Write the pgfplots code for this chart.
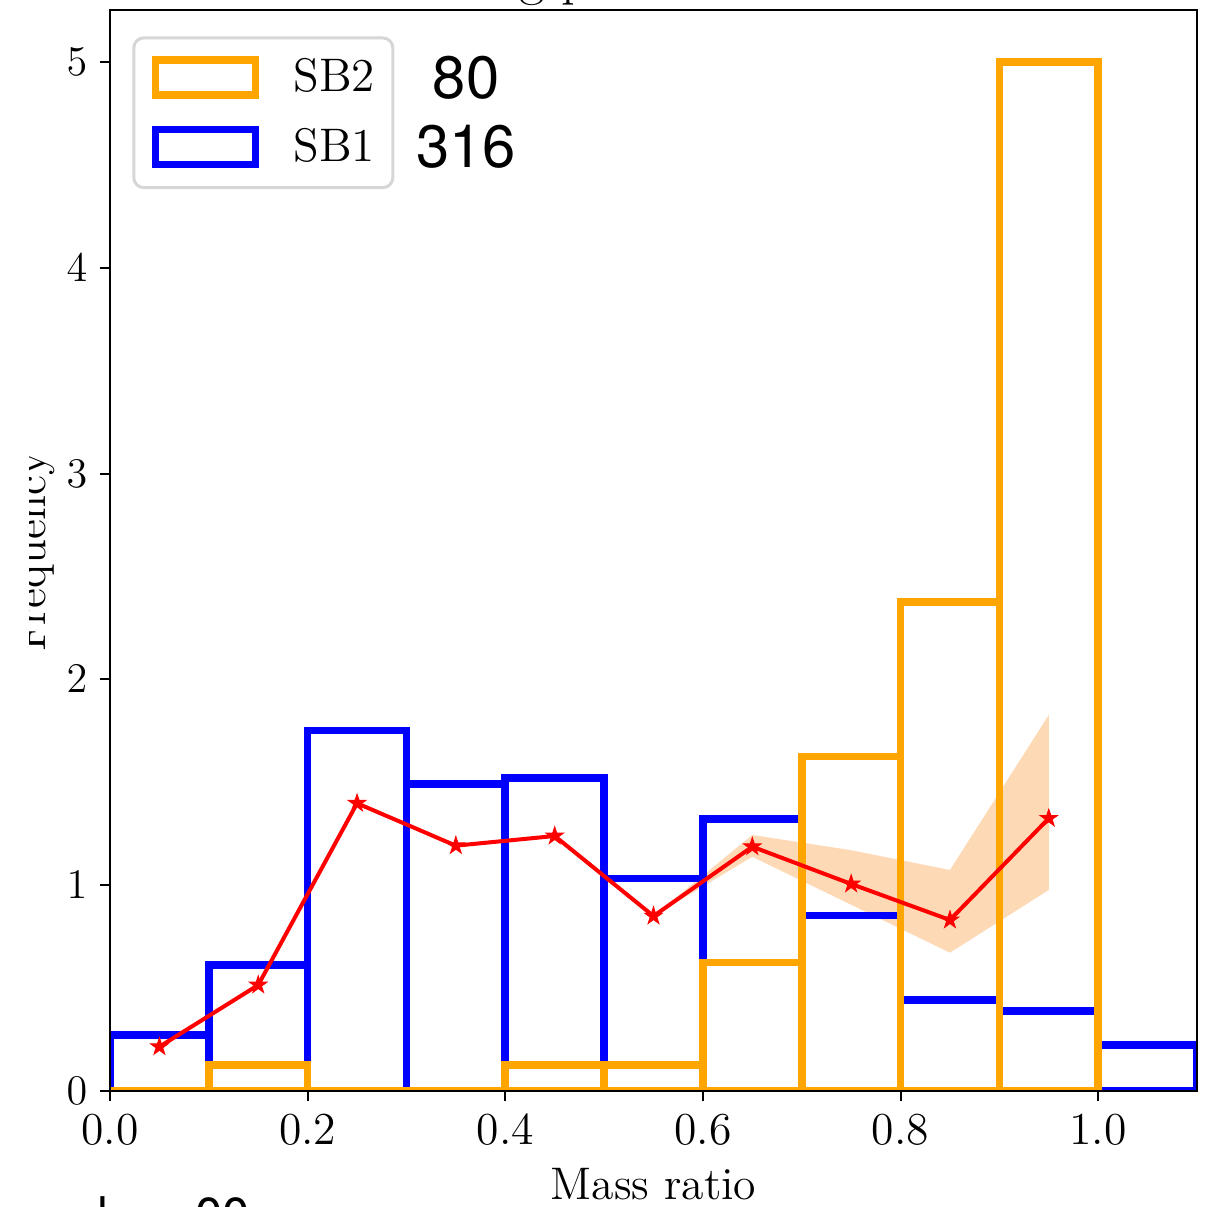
\documentclass[border=0pt]{standalone}
\usepackage{fontspec}
\setsansfont{TeX Gyre Heros}
\usepackage{pgfplots}
\pgfplotsset{compat=1.18}

\definecolor{sbone}{RGB}{0,0,255}
\definecolor{sbtwo}{RGB}{255,165,0}
\definecolor{bandfill}{RGB}{253,217,182}
\definecolor{legframe}{RGB}{214,214,214}

% filled five-pointed star
\pgfdeclareplotmark{fstar}{%
  \pgfpathmoveto{\pgfpointpolar{90}{\pgfplotmarksize}}%
  \pgfpathlineto{\pgfpointpolar{126}{0.382\pgfplotmarksize}}%
  \pgfpathlineto{\pgfpointpolar{162}{\pgfplotmarksize}}%
  \pgfpathlineto{\pgfpointpolar{198}{0.382\pgfplotmarksize}}%
  \pgfpathlineto{\pgfpointpolar{234}{\pgfplotmarksize}}%
  \pgfpathlineto{\pgfpointpolar{270}{0.382\pgfplotmarksize}}%
  \pgfpathlineto{\pgfpointpolar{306}{\pgfplotmarksize}}%
  \pgfpathlineto{\pgfpointpolar{342}{0.382\pgfplotmarksize}}%
  \pgfpathlineto{\pgfpointpolar{18}{\pgfplotmarksize}}%
  \pgfpathlineto{\pgfpointpolar{54}{0.382\pgfplotmarksize}}%
  \pgfpathclose
  \pgfusepathqfillstroke
}

\newcommand\lblfont{\fontsize{13}{15.6}\selectfont}
\newcommand\legfont{\fontsize{13.4}{16}\selectfont}

\begin{document}
\begin{tikzpicture}
\useasboundingbox (-11mm,-11.6mm) rectangle (109.5mm,109.1mm);
\clip (-11mm,-11.6mm) rectangle (109.5mm,109.1mm);
\begin{axis}[
  at={(0,0)}, anchor=south west, scale only axis,
  width=108.7mm, height=108.05mm,
  xmin=0, xmax=1.1, ymin=0, ymax=5.25,
  axis on top, axis line style={line width=0.2mm},
  tick pos=left, tick align=outside, major tick length=1mm,
  tick style={line width=0.2mm, black},
  xtick={0,0.2,0.4,0.6,0.8,1.0},
  xticklabels={0.0,0.2,0.4,0.6,0.8,1.0},
  ytick={0,1,2,3,4,5},
  ticklabel style={font=\lblfont},
  xticklabel style={inner sep=0pt, anchor=north, yshift=-1.2mm},
  yticklabel style={inner sep=0pt, anchor=east, xshift=-1.2mm},
  xlabel={Mass ratio},
  xlabel style={font=\lblfont, at={(axis description cs:0.5,0)}, anchor=base, yshift=-10.8mm},
  legend image code/.code={%
    \path[draw=none, fill=none] (0mm,-2.2mm) rectangle (10mm,1.9mm);
    \draw[sharp corners] (0mm,-1.75mm) rectangle (10mm,1.75mm);},
  legend style={at={(axis description cs:0.0205,0.976)}, anchor=north west,
    draw=legframe, line width=0.3mm, rounded corners=1mm,
    inner xsep=1.8mm, inner ysep=1.85mm, font=\legfont,
    nodes={inner sep=0pt}, row sep=2.6mm, column sep=3.4mm},
  legend cell align=left,
]
% spread of the running mean
\addplot[fill=bandfill, draw=none, forget plot] coordinates {
  (0.55,0.850) (0.65,1.244) (0.75,1.170) (0.85,1.074) (0.95,1.827)
  (0.95,0.977) (0.85,0.672) (0.75,0.905) (0.65,1.138) (0.55,0.850)};

% SB1 histogram (density)
\addplot[ybar interval, draw=sbone, fill=none, line width=0.77mm, forget plot] coordinates {
  (0.0,0.271) (0.1,0.611) (0.2,1.752) (0.3,1.493) (0.4,1.522) (0.5,1.033)
  (0.6,1.322) (0.7,0.853) (0.8,0.442) (0.9,0.390) (1.0,0.222) (1.1,0.222)};

% SB2 histogram (density)
\addplot[ybar interval, draw=sbtwo, fill=none, line width=0.77mm, forget plot] coordinates {
  (0.0,0) (0.1,0.125) (0.2,0) (0.3,0) (0.4,0.125) (0.5,0.125)
  (0.6,0.625) (0.7,1.625) (0.8,2.375) (0.9,5.0) (1.0,5.0)};

% binned mean
\addplot[color=red, line width=0.4mm, mark=fstar, mark size=0.9mm,
  mark options={fill=red, line width=0.1mm}, forget plot] coordinates {
  (0.05,0.215) (0.15,0.515) (0.25,1.398) (0.35,1.192) (0.45,1.239)
  (0.55,0.850) (0.65,1.187) (0.75,1.006) (0.85,0.831) (0.95,1.325)};

\addlegendimage{draw=sbtwo, line width=0.77mm}
\addlegendentry{SB2}
\addlegendimage{draw=sbone, line width=0.77mm}
\addlegendentry{SB1}
\end{axis}

\node[font=\sffamily\fontsize{17}{20}\selectfont, anchor=base] at (35.6mm,99.2mm) {80};
\node[font=\sffamily\fontsize{17}{20}\selectfont, anchor=base] at (35.6mm,92.3mm) {316};

\begin{scope}
  \clip (-8mm,0mm) rectangle (0mm,108mm);
  \node[font=\lblfont, rotate=90, anchor=base] at (-6.45mm,53.95mm) {Frequency};
\end{scope}

\node[font=\fontsize{15.6}{18.7}\selectfont, anchor=base west, inner sep=0pt] at (38.1mm,109.67mm) {ng p};
\node[font=\sffamily\fontsize{14}{16.8}\selectfont, anchor=base west, inner sep=0pt] at (-1.34mm,-14.2mm) {l\hspace{8.73mm}00};
\end{tikzpicture}
\end{document}
